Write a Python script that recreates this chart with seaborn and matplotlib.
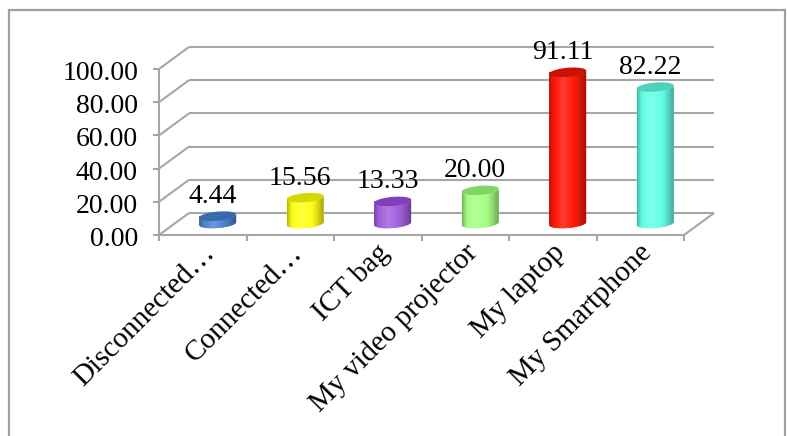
import numpy as np
import matplotlib
matplotlib.use("Agg")
import matplotlib.pyplot as plt
from matplotlib.patches import Polygon
import seaborn as sns

# --- data -------------------------------------------------------------
categories = ["Disconnected…", "Connected…", "ICT bag",
              "My video projector", "My laptop", "My Smartphone"]
values = [4.44, 15.56, 13.33, 20.00, 91.11, 82.22]
value_ticks = [0, 20, 40, 60, 80, 100]

body_colors = ["#4f86d0", "#ffff1a", "#a262e0", "#a6ff86", "#ff1a0a", "#66ffe6"]
cap_colors = ["#3a6aae", "#d6d600", "#8040bc", "#82d466", "#c81206", "#4ed2bc"]

# --- geometry (pixel sizes of the pseudo-3D frame) ---------------------
W, H = 787, 436
PX_CAT = 87.5          # pixels per category slot
PX_UNIT = 1.66         # pixels per value unit
ORIGIN = (159.0, 235.0)  # front-left corner of the floor, in pixels
GRID_C = "#a6a6a6"
SERIF = "Liberation Serif"


def sx(px):
    return px / PX_CAT


def sy(px):
    return px / PX_UNIT


def to_data(px, py):
    return -0.5 + sx(px - ORIGIN[0]), sy(ORIGIN[1] - py)


DEPTH_X, DEPTH_Y = sx(30), sy(22)
BAR_W = sx(37)
BAR_SHIFT = DEPTH_X / 2
BAR_BASE = sy(11.5)
ELL_B = 4.5            # half height of the elliptical ends, px
ELL_TILT = 1.5         # right side of the ellipse sits higher, px

sns.set_theme(style="white")
plt.rcParams["font.family"] = [SERIF, "DejaVu Sans"]

fig = plt.figure(figsize=(W / 100, H / 100), dpi=100)
ax = fig.add_axes([0, 0, 1, 1])

sns.barplot(x=categories, y=values, hue=categories, palette=body_colors,
            legend=False, width=BAR_W, saturation=1, linewidth=0,
            zorder=3, ax=ax)

n = len(categories)
x_lo, y_top_lim = to_data(0, 0)
x_hi, y_bot_lim = to_data(W, H)

# --- back wall, floor and axes -----------------------------------------
line_kw = dict(color=GRID_C, lw=1.5, solid_capstyle="butt", zorder=1)
x_left = -0.5
x_right = n - 0.5
for v in value_ticks:
    ax.plot([x_left, x_left + DEPTH_X], [v, v + DEPTH_Y], **line_kw)
    ax.plot([x_left + DEPTH_X, x_right + DEPTH_X], [v + DEPTH_Y, v + DEPTH_Y], **line_kw)
    ax.plot([x_left - sx(6), x_left], [v, v], **line_kw)
    ax.text(x_left - sx(21), v - sy(1.5), f"{v:.2f}", ha="right", va="center_baseline",
            fontsize=20, color="black")
ax.plot([x_left, x_left], [0, value_ticks[-1]], **line_kw)
ax.plot([x_left, x_right], [0, 0], **line_kw)
ax.plot([x_right, x_right + DEPTH_X], [0, DEPTH_Y], **line_kw)
for i in range(n + 1):
    xb = -0.5 + i
    ax.plot([xb, xb], [0, -sy(6)], **line_kw)

# --- cylinders -----------------------------------------------------------
t_cols = np.linspace(0, 1, 80)
shade = np.interp(t_cols, [0, 0.1, 0.38, 0.75, 1.0],
                  [-0.30, -0.06, 0.16, -0.06, -0.34])


def ellipse_pts(xc, yc, t):
    ex = (BAR_W / 2) * np.cos(t)
    ey_px = ELL_B * np.sin(t) + ELL_TILT * np.cos(t)
    return np.column_stack([xc + ex, yc + sy(ey_px)])


for patch in list(ax.patches):
    i = int(round(patch.get_x() + patch.get_width() / 2))
    v = values[i]
    patch.set_x(patch.get_x() + BAR_SHIFT)
    patch.set_y(BAR_BASE)
    xc = patch.get_x() + patch.get_width() / 2
    top = BAR_BASE + v
    base_rgb = np.array(matplotlib.colors.to_rgb(body_colors[i]))

    # body outline: front half of the base ellipse plus the side walls
    lower = ellipse_pts(xc, BAR_BASE, np.linspace(np.pi, 2 * np.pi, 60))
    upper = ellipse_pts(xc, top, np.linspace(0, -np.pi, 60))
    body = Polygon(np.vstack([lower, upper]), closed=True,
                   facecolor=body_colors[i], edgecolor="none", zorder=3.5)
    ax.add_patch(body)

    cols = np.empty((1, len(t_cols), 3))
    for k, s in enumerate(shade):
        cols[0, k] = base_rgb + (1 - base_rgb) * s if s > 0 else base_rgb * (1 + s)
    im = ax.imshow(np.clip(cols, 0, 1), extent=[xc - BAR_W / 2, xc + BAR_W / 2,
                                                 BAR_BASE - sy(8), top + sy(8)],
                   aspect="auto", interpolation="bilinear", zorder=4)
    im.set_clip_path(body)

    cap = Polygon(ellipse_pts(xc, top, np.linspace(0, 2 * np.pi, 90)), closed=True,
                  facecolor=cap_colors[i], edgecolor="none", zorder=5)
    ax.add_patch(cap)

    ax.text(xc - sx(5), top + sy(ELL_B + ELL_TILT + 7), f"{v:.2f}",
            ha="center", va="baseline", fontsize=20, color="black", zorder=6)

# --- category labels -----------------------------------------------------
for i, name in enumerate(categories):
    ax.text(i + sx(8), -sy(14), name, rotation=45, rotation_mode="anchor",
            ha="right", va="center", fontsize=21, color="black")

# --- chart-area border ---------------------------------------------------
bx0, by0 = to_data(8.5, 10.5)
bx1, by1 = to_data(785, 450)
ax.plot([bx0, bx0, bx1, bx1], [by1, by0, by0, by1], color="#a0a0a0", lw=1.6,
        solid_joinstyle="miter", zorder=1)

ax.set_xlim(x_lo, x_hi)
ax.set_ylim(y_bot_lim, y_top_lim)
ax.set_axis_off()

fig.savefig("out.png", dpi=100)
